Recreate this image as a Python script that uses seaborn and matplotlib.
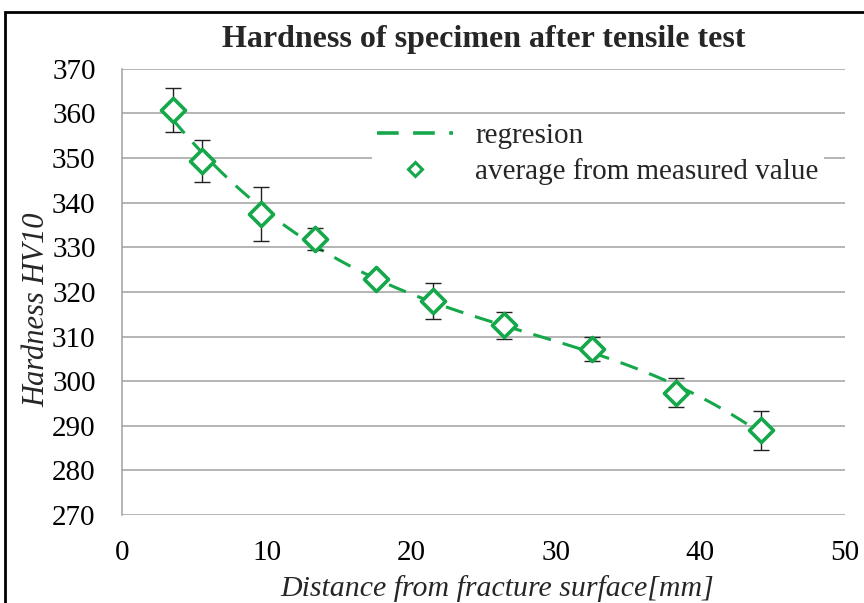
import numpy as np
import pandas as pd
import matplotlib
matplotlib.use("Agg")
import matplotlib.pyplot as plt
import seaborn as sns
from matplotlib.lines import Line2D
from matplotlib.patches import Rectangle

# ---- data ----
distance_mm = [3.5, 5.5, 9.6, 13.35, 17.6, 21.5, 26.4, 32.5, 38.3, 44.2]
hardness_hv10 = [360.7, 349.3, 337.4, 331.8, 322.9, 317.9, 312.5, 307.2, 297.4, 289.0]
hardness_err = [4.9, 4.7, 6.0, 2.5, 1.0, 4.0, 3.0, 2.6, 3.3, 4.4]

title_text = "Hardness of specimen after tensile test"
xlabel_text = "Distance from fracture surface[mm]"
ylabel_text = "Hardness HV10"
legend_labels = ["regresion", "average from measured value"]
x_ticks = [0, 10, 20, 30, 40, 50]
y_ticks = [270, 280, 290, 300, 310, 320, 330, 340, 350, 360, 370]

df = pd.DataFrame({"distance": distance_mm, "hardness": hardness_hv10, "err": hardness_err})

green = "#14A84A"

sns.set_theme(style="white")
plt.rcParams["font.family"] = ["Liberation Serif", "DejaVu Serif"]

fig = plt.figure(figsize=(8.64, 6.03), dpi=100)
ax = fig.add_axes([122 / 864, 1 - 515 / 603, (845 - 122) / 864, (515 - 68.8) / 603])

# regression curve (polynomial fit by seaborn)
sns.regplot(data=df, x="distance", y="hardness", order=3, ci=None, scatter=False, ax=ax,
            line_kws=dict(color=green, lw=2.2, dashes=(6, 4), zorder=3))

# error bars
ax.errorbar(df["distance"], df["hardness"], yerr=df["err"], fmt="none",
            ecolor="#222222", elinewidth=1.0, capsize=6, capthick=1.0, zorder=4)

# markers
sns.scatterplot(data=df, x="distance", y="hardness", ax=ax, marker="D", s=150,
                facecolor="white", edgecolor=green, linewidth=2.6, zorder=5, legend=False)

ax.set_xlim(0, 50)
ax.set_ylim(270, 370)
ax.set_xticks(x_ticks)
ax.set_yticks(y_ticks)
ax.set_xticklabels([str(t) for t in x_ticks])
ax.set_yticklabels([str(t) for t in y_ticks])
ax.tick_params(axis="both", length=0, labelsize=21, colors="black")
ax.tick_params(axis="x", pad=18)
ax.tick_params(axis="y", pad=19)
ax.grid(axis="y", color="#a0a0a0", lw=1.1)
ax.grid(axis="x", visible=False)
for s in ["top", "right", "bottom"]:
    ax.spines[s].set_visible(False)
ax.spines["left"].set_color("#a0a0a0")
ax.spines["left"].set_linewidth(1.1)

ax.set_xlabel(xlabel_text, fontsize=21.5, style="italic")
ax.set_ylabel(ylabel_text, fontsize=22, style="italic")
ax.xaxis.set_label_coords(0.519, -0.135)
ax.yaxis.set_label_coords(-0.098, 0.46)
fig.text(0.56, 1 - 39 / 603, title_text, ha="center", va="center",
         fontsize=23, fontweight="bold")

handles = [
    Line2D([0], [0], color=green, lw=2.6, dashes=(6, 4)),
    Line2D([0], [0], color=green, lw=2.2, marker="D", markersize=7, linestyle="none",
           markerfacecolor="white", markeredgewidth=2.2),
]
leg = ax.legend(handles, legend_labels, loc="upper left", bbox_to_anchor=(0.325, 0.925),
                fontsize=21, frameon=True, facecolor="white", edgecolor="none",
                framealpha=1, handlelength=2.6, handletextpad=0.75, labelspacing=0.3,
                borderpad=0.2)
leg.set_zorder(6)

# outer figure frame (top and left visible in reference)
fig.add_artist(Rectangle((5 / 864, -0.05), 2.0, 1 - 12 / 603 + 0.05,
                         transform=fig.transFigure, fill=False, edgecolor="black", lw=2))

fig.savefig("out.png", dpi=100)
